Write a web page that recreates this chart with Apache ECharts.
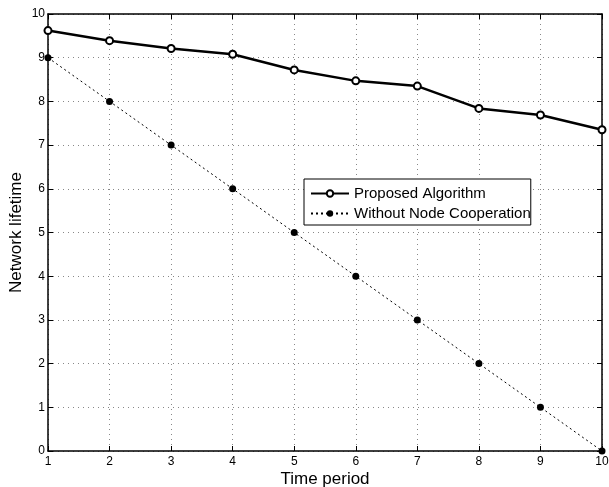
<!DOCTYPE html>
<html>
<head>
<meta charset="utf-8">
<script src="https://cdn.jsdelivr.net/npm/echarts@6/dist/echarts.min.js"></script>
<style>
html,body{margin:0;padding:0;background:#fff;}
#chart{width:609px;height:487px;}
</style>
</head>
<body>
<div id="chart"></div>
<script>
// Time periods along the x axis
const periods = [1, 2, 3, 4, 5, 6, 7, 8, 9, 10];
// Network lifetime for each approach
const proposed = [9.62, 9.39, 9.21, 9.08, 8.72, 8.47, 8.35, 7.84, 7.69, 7.35];
const withoutCoop = [9, 8, 7, 6, 5, 4, 3, 2, 1, 0];
const seriesNames = ['Proposed Algorithm', 'Without Node Cooperation'];

const font = 'Liberation Sans, Arial, Helvetica, sans-serif';
const chart = echarts.init(document.getElementById('chart'));

// Unlabelled top/right axes close the box with inward ticks
const frameAxis = {
  show: true,
  axisLine: { show: true, onZero: false, lineStyle: { color: '#000', width: 1.5 } },
  axisTick: { show: true, inside: true, length: 5, lineStyle: { color: '#000' } },
  axisLabel: { show: false },
  splitLine: { show: false }
};

chart.setOption({
  animation: false,
  backgroundColor: '#fff',
  grid: { left: 48, top: 14, right: 7, bottom: 36, containLabel: false, outerBoundsMode: 'none' },
  legend: {
    orient: 'vertical',
    left: 304,
    top: 179,
    padding: [7, 0, 4, 6],
    itemGap: 5,
    itemWidth: 38,
    itemHeight: 8,
    borderColor: '#000',
    borderWidth: 1,
    borderRadius: 0,
    backgroundColor: '#fff',
    textStyle: { fontFamily: font, fontSize: 15, color: '#000' },
    data: seriesNames
  },
  xAxis: [
    {
      type: 'value',
      min: 1, max: 10, interval: 1,
      name: 'Time period',
      nameLocation: 'middle',
      nameGap: 20,
      nameMoveOverlap: false,
      nameTextStyle: { fontFamily: font, fontSize: 17, color: '#000' },
      axisLine: { show: true, onZero: false, lineStyle: { color: '#000', width: 1.5 } },
      axisTick: { show: true, inside: true, length: 5, lineStyle: { color: '#000' } },
      axisLabel: { fontFamily: font, fontSize: 12, color: '#000', margin: 5 },
      splitLine: { show: true, lineStyle: { color: '#888', type: [1, 4], width: 1 } }
    },
    Object.assign({ type: 'value', position: 'top', min: 1, max: 10, interval: 1 }, frameAxis)
  ],
  yAxis: [
    {
      type: 'value',
      min: 0, max: 10, interval: 1,
      name: 'Network lifetime',
      nameLocation: 'middle',
      nameGap: 23,
      nameMoveOverlap: false,
      nameTextStyle: { fontFamily: font, fontSize: 17, color: '#000' },
      axisLine: { show: true, onZero: false, lineStyle: { color: '#000', width: 1.5 } },
      axisTick: { show: true, inside: true, length: 5, lineStyle: { color: '#000' } },
      axisLabel: { fontFamily: font, fontSize: 12, color: '#000', margin: 3 },
      splitLine: { show: true, lineStyle: { color: '#888', type: [1, 4], width: 1 } }
    },
    Object.assign({ type: 'value', position: 'right', min: 0, max: 10, interval: 1 }, frameAxis)
  ],
  series: [
    {
      name: seriesNames[0],
      type: 'line',
      data: periods.map((p, i) => [p, proposed[i]]),
      symbol: 'circle',
      symbolSize: 7,
      showAllSymbol: true,
      clip: false,
      lineStyle: { color: '#000', width: 2.5 },
      itemStyle: { color: '#fff', borderColor: '#000', borderWidth: 2 },
      z: 3
    },
    {
      name: seriesNames[1],
      type: 'line',
      data: periods.map((p, i) => [p, withoutCoop[i]]),
      symbol: 'circle',
      symbolSize: 7,
      showAllSymbol: true,
      clip: false,
      lineStyle: { color: '#000', width: 1, type: [2, 3] },
      itemStyle: { color: '#000', borderColor: '#000', borderWidth: 0 },
      z: 2
    }
  ]
});
</script>
</body>
</html>
